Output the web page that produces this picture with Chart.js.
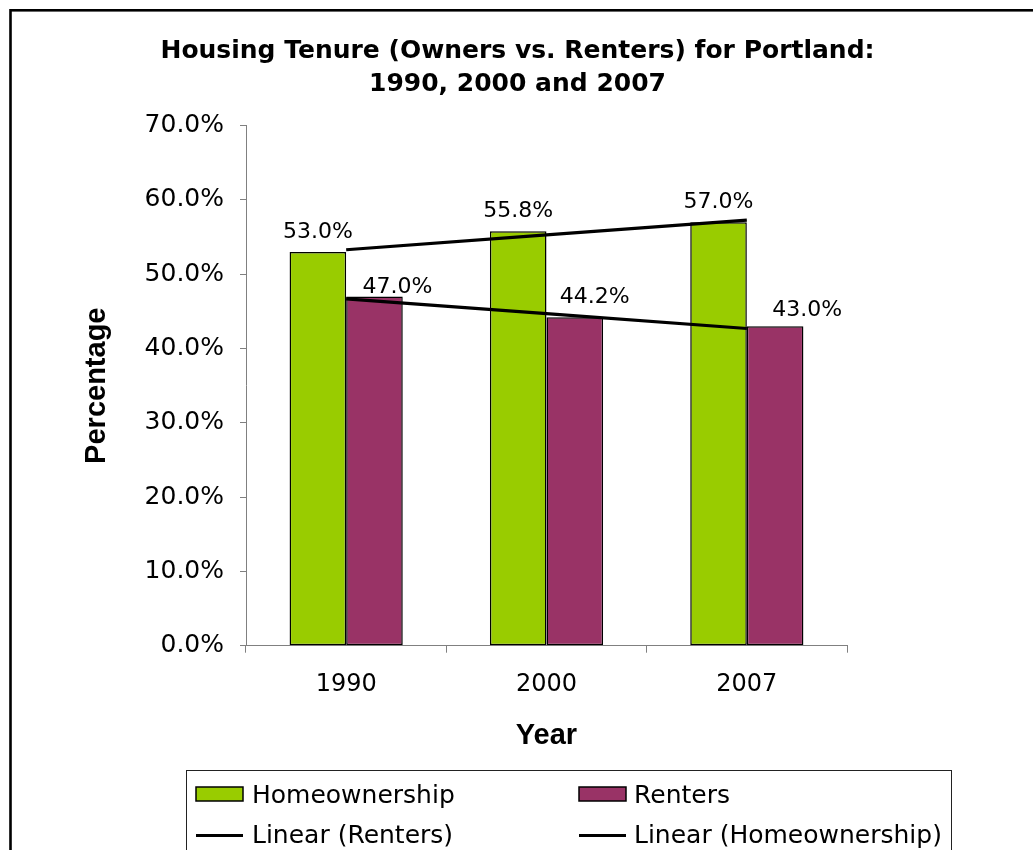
<!DOCTYPE html>
<html>
<head>
<meta charset="utf-8">
<script src="https://cdn.jsdelivr.net/npm/chart.js@4.4.1/dist/chart.umd.min.js"></script>
<style>
  html, body { margin: 0; padding: 0; background: #ffffff; }
  canvas { display: block; }
</style>
</head>
<body>
<canvas id="chart" width="1033" height="850"></canvas>
<script>
// ---- Data ----
const chartTitle = ['Housing Tenure (Owners vs. Renters) for Portland:', '1990, 2000 and 2007'];
const years = ['1990', '2000', '2007'];
const homeownership = [53.0, 55.8, 57.0];
const renters = [47.0, 44.2, 43.0];
const trendRenters = [46.7, 44.7, 42.7];
const trendHomeownership = [53.3, 55.3, 57.3];
const xAxisTitle = 'Year';
const yAxisTitle = 'Percentage';

const GREEN = '#99CC00';
const MAROON = '#993366';

// ---- Plugins ----
const frameAndTitle = {
  id: 'frameAndTitle',
  beforeDraw(chart) {
    const ctx = chart.ctx;
    ctx.save();
    ctx.fillStyle = '#ffffff';
    ctx.fillRect(0, 0, chart.width, chart.height);
    ctx.strokeStyle = '#000000';
    ctx.lineWidth = 2.6;
    ctx.strokeRect(10.5, 10.3, 1400, 1400);
    ctx.restore();
  },
  afterDraw(chart, args, opts) {
    const ctx = chart.ctx;
    ctx.save();
    ctx.fillStyle = '#000000';
    ctx.font = 'bold 25px "DejaVu Sans"';
    ctx.textAlign = 'center';
    ctx.textBaseline = 'alphabetic';
    opts.lines.forEach((t, i) => ctx.fillText(t, opts.centerX, opts.baselines[i]));
    ctx.restore();
  }
};

const barValueLabels = {
  id: 'barValueLabels',
  afterDatasetsDraw(chart, args, opts) {
    const ctx = chart.ctx;
    ctx.save();
    ctx.fillStyle = '#000000';
    ctx.font = '22px "DejaVu Sans"';
    ctx.textAlign = 'center';
    ctx.textBaseline = 'alphabetic';
    chart.data.datasets.forEach((ds, i) => {
      if (ds.type === 'line') return;
      const meta = chart.getDatasetMeta(i);
      const nudge = opts.nudge[ds.label];
      meta.data.forEach((el, j) => {
        const n = nudge[j];
        ctx.fillText(ds.data[j].toFixed(1) + '%', el.x + n[0], el.y + n[1]);
      });
    });
    ctx.restore();
  }
};

const boxLegend = {
  id: 'boxLegend',
  afterDraw(chart, args, opts) {
    const ctx = chart.ctx;
    ctx.save();
    ctx.strokeStyle = '#222222';
    ctx.lineWidth = 1;
    ctx.strokeRect(opts.box.x + 0.5, opts.box.y + 0.5, opts.box.w, opts.box.h);
    ctx.font = '25px "DejaVu Sans"';
    ctx.textAlign = 'left';
    ctx.textBaseline = 'alphabetic';
    opts.items.forEach(item => {
      const ds = chart.data.datasets.find(d => d.label === item.label);
      const cx = opts.colX[item.col];
      const by = opts.rowBaseline[item.row];
      if (ds.type === 'line') {
        ctx.strokeStyle = ds.borderColor;
        ctx.lineWidth = 3;
        ctx.beginPath();
        ctx.moveTo(cx, by - 7.5);
        ctx.lineTo(cx + 47, by - 7.5);
        ctx.stroke();
      } else {
        ctx.fillStyle = ds.backgroundColor;
        ctx.fillRect(cx, by - 16, 47, 14);
        ctx.strokeStyle = '#000000';
        ctx.lineWidth = 1.5;
        ctx.strokeRect(cx, by - 16, 47, 14);
      }
      ctx.fillStyle = '#000000';
      ctx.fillText(item.label, cx + opts.textGap[item.col], by);
    });
    ctx.restore();
  }
};

// ---- Chart ----
const axisGray = '#808080';

new Chart(document.getElementById('chart'), {
  data: {
    labels: years,
    datasets: [
      {
        type: 'line', label: 'Linear (Renters)', data: trendRenters,
        borderColor: '#000000', borderWidth: 3.2, pointRadius: 0, tension: 0, fill: false, order: 0
      },
      {
        type: 'line', label: 'Linear (Homeownership)', data: trendHomeownership,
        borderColor: '#000000', borderWidth: 3.2, pointRadius: 0, tension: 0, fill: false, order: 0
      },
      {
        type: 'bar', label: 'Homeownership', data: homeownership,
        backgroundColor: GREEN, borderColor: '#000000', borderWidth: 1.5, borderSkipped: false,
        categoryPercentage: 0.565, barPercentage: 1.0, order: 1
      },
      {
        type: 'bar', label: 'Renters', data: renters,
        backgroundColor: MAROON, borderColor: '#000000', borderWidth: 1.5, borderSkipped: false,
        categoryPercentage: 0.565, barPercentage: 1.0, order: 1
      }
    ]
  },
  options: {
    responsive: false,
    devicePixelRatio: 1,
    animation: false,
    events: [],
    layout: { padding: { top: 125.7, right: 186, bottom: 0, left: 0 } },
    plugins: {
      legend: { display: false },
      title: { display: false },
      tooltip: { enabled: false },
      frameAndTitle: { lines: chartTitle, centerX: 517.5, baselines: [58, 91] },
      barValueLabels: {
        nudge: {
          'Homeownership': [[0, -14], [0, -14], [0, -14]],
          'Renters': [[23, -4], [20, -14], [32, -10]]
        }
      },
      boxLegend: {
        box: { x: 186, y: 770, w: 765, h: 200 },
        colX: [196, 579],
        textGap: [56, 55],
        rowBaseline: [803, 843],
        items: [
          { label: 'Homeownership', col: 0, row: 0 },
          { label: 'Renters', col: 1, row: 0 },
          { label: 'Linear (Renters)', col: 0, row: 1 },
          { label: 'Linear (Homeownership)', col: 1, row: 1 }
        ]
      }
    },
    scales: {
      x: {
        type: 'category',
        offset: true,
        grid: { display: true, drawOnChartArea: false, drawTicks: true, tickLength: 7, color: axisGray, offset: true },
        border: { display: true, color: axisGray, width: 1 },
        ticks: { color: '#000000', padding: 18, font: { family: 'DejaVu Sans', size: 24 } },
        title: {
          display: true, text: xAxisTitle, color: '#000000',
          font: { family: 'Liberation Sans', size: 29, weight: 'bold' },
          padding: { top: 0, bottom: 96.6 }
        },
        afterFit(scale) { scale.height = 204.3; }
      },
      y: {
        type: 'linear',
        min: 0, max: 70,
        grid: { display: true, drawOnChartArea: false, drawTicks: true, tickLength: 6, color: axisGray },
        border: { display: true, color: axisGray, width: 1 },
        ticks: {
          stepSize: 10, color: '#000000', padding: 16,
          font: { family: 'DejaVu Sans', size: 25 },
          callback: v => v.toFixed(1) + '%'
        },
        title: {
          display: true, text: yAxisTitle, color: '#000000',
          font: { family: 'Liberation Sans', size: 29, weight: 'bold' },
          padding: { top: 79.6, bottom: 0 }
        },
        afterFit(scale) { scale.width = 246; }
      }
    }
  },
  plugins: [frameAndTitle, barValueLabels, boxLegend]
});
</script>
</body>
</html>
